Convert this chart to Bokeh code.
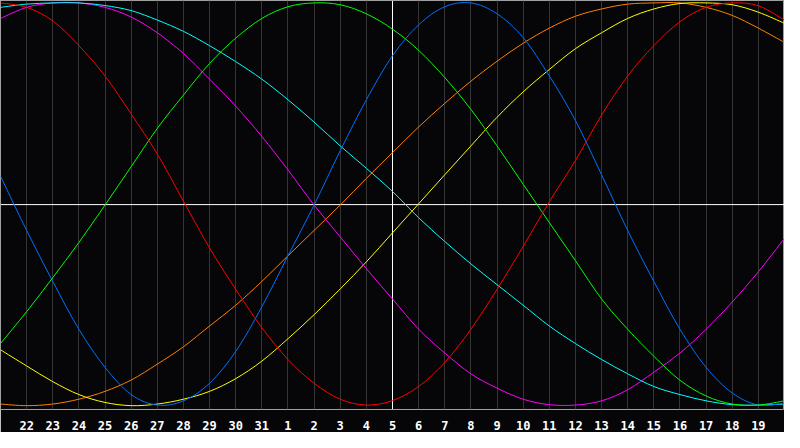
from bokeh.plotting import figure
from bokeh.models import FixedTicker, Span
from bokeh.embed import file_html
from bokeh.resources import INLINE

# x positions: day index 0..30 (index 15 = today, the 5th)
day_index = list(range(31))
tick_index = list(range(1, 30))
tick_labels = ["22", "23", "24", "25", "26", "27", "28", "29", "30", "31",
               "1", "2", "3", "4", "5", "6", "7", "8", "9", "10",
               "11", "12", "13", "14", "15", "16", "17", "18", "19"]
today_index = 15

# cycle values read at each day (-1 .. 1)
red = [1.00, 0.978, 0.911, 0.788, 0.638, 0.449, 0.251, 0.017, -0.215, -0.420,
       -0.610, -0.768, -0.886, -0.965, -0.994, -0.972, -0.902, -0.783, -0.618, -0.420,
       -0.207, 0.014, 0.219, 0.444, 0.638, 0.788, 0.907, 0.978, 1.00, 0.986, 0.915]
green = [-0.689, -0.531, -0.362, -0.188, -0.002, 0.188, 0.378, 0.543, 0.700, 0.825,
         0.923, 0.981, 1.00, 0.991, 0.946, 0.870, 0.765, 0.630, 0.472, 0.291,
         0.101, -0.089, -0.278, -0.468, -0.618, -0.752, -0.871, -0.949, -0.989, -0.994, -0.973]
blue = [0.141, -0.128, -0.381, -0.618, -0.807, -0.942, -0.994, -0.973, -0.886, -0.728,
        -0.507, -0.254, -0.002, 0.267, 0.520, 0.738, 0.891, 0.981, 1.00, 0.946,
        0.828, 0.638, 0.417, 0.148, -0.128, -0.381, -0.618, -0.807, -0.934, -0.994, -0.984]
cyan = [0.978, 0.994, 1.00, 1.00, 0.987, 0.962, 0.915, 0.859, 0.788, 0.709,
        0.622, 0.520, 0.409, 0.291, 0.180, 0.065, -0.065, -0.183, -0.294, -0.397,
        -0.499, -0.602, -0.689, -0.768, -0.839, -0.902, -0.942, -0.973, -0.992, -0.994, -0.989]
magenta = [0.923, 0.978, 1.00, 1.00, 0.978, 0.930, 0.852, 0.749, 0.622, 0.488,
           0.338, 0.172, -0.002, -0.160, -0.318, -0.468, -0.618, -0.736, -0.839, -0.910,
           -0.965, -0.992, -0.994, -0.973, -0.918, -0.831, -0.736, -0.618, -0.483, -0.333, -0.167]
yellow = [-0.720, -0.800, -0.878, -0.942, -0.981, -0.997, -0.989, -0.965, -0.926, -0.863,
          -0.776, -0.665, -0.546, -0.418, -0.284, -0.140, 0.004, 0.148, 0.291, 0.433,
          0.559, 0.670, 0.773, 0.852, 0.923, 0.970, 0.997, 1.00, 0.991, 0.954, 0.899]
orange = [-0.989, -0.997, -0.989, -0.965, -0.926, -0.870, -0.791, -0.705, -0.602, -0.499,
          -0.381, -0.254, -0.128, -0.002, 0.130, 0.258, 0.385, 0.502, 0.612, 0.711,
          0.800, 0.875, 0.934, 0.970, 0.994, 1.00, 1.00, 0.978, 0.938, 0.875, 0.804]

series = [
    (orange, "#ff8000"),
    (yellow, "#ffff00"),
    (magenta, "#ff00ff"),
    (cyan, "#00ffff"),
    (blue, "#0070ff"),
    (green, "#00ff00"),
    (red, "#ff0000"),
]

BG = "#060608"

p = figure(width=784, height=432, x_range=(0, 30), y_range=(-1.016, 1.012),
           output_backend="svg", toolbar_location=None,
           y_axis_location=None, x_axis_location="below",
           background_fill_color=BG, border_fill_color=BG,
           outline_line_color="#a0a0a0", outline_line_width=1,
           min_border_left=0, min_border_right=0, min_border_top=0, min_border_bottom=0)

ticker = FixedTicker(ticks=tick_index)
xa = p.xaxis[0]
xa.ticker = ticker
xa.major_label_overrides = {i: lab for i, lab in zip(tick_index, tick_labels)}
xa.axis_line_color = None
xa.major_tick_line_color = None
xa.minor_tick_line_color = None
xa.major_label_text_color = "white"
xa.major_label_text_font = "DejaVu Sans Mono"
xa.major_label_text_font_style = "bold"
xa.major_label_text_font_size = "12px"
xa.major_label_standoff = 5

p.xgrid.ticker = ticker
p.xgrid.grid_line_color = "#353535"
p.xgrid.grid_line_width = 1
p.ygrid.grid_line_color = None

p.add_layout(Span(location=today_index, dimension="height", line_color="white",
                  line_width=1, level="underlay"))
p.add_layout(Span(location=0, dimension="width", line_color="white",
                  line_width=1, level="underlay"))


def smooth_segments(xs, ys):
    """Catmull-Rom style bezier segments through the read points."""
    n = len(xs)
    seg = dict(x0=[], y0=[], x1=[], y1=[], cx0=[], cy0=[], cx1=[], cy1=[])
    for i in range(n - 1):
        ip = max(i - 1, 0)
        inn = min(i + 2, n - 1)
        seg["x0"].append(xs[i]); seg["y0"].append(ys[i])
        seg["x1"].append(xs[i + 1]); seg["y1"].append(ys[i + 1])
        seg["cx0"].append(xs[i] + (xs[i + 1] - xs[ip]) / 6.0)
        seg["cy0"].append(ys[i] + (ys[i + 1] - ys[ip]) / 6.0)
        seg["cx1"].append(xs[i + 1] - (xs[inn] - xs[i]) / 6.0)
        seg["cy1"].append(ys[i + 1] - (ys[inn] - ys[i]) / 6.0)
    return seg


for vals, col in series:
    s = smooth_segments(day_index, vals)
    p.bezier(x0=s["x0"], y0=s["y0"], x1=s["x1"], y1=s["y1"],
             cx0=s["cx0"], cy0=s["cy0"], cx1=s["cx1"], cy1=s["cy1"],
             line_color=col, line_width=1)

open("out.html", "w").write(file_html(p, INLINE))
